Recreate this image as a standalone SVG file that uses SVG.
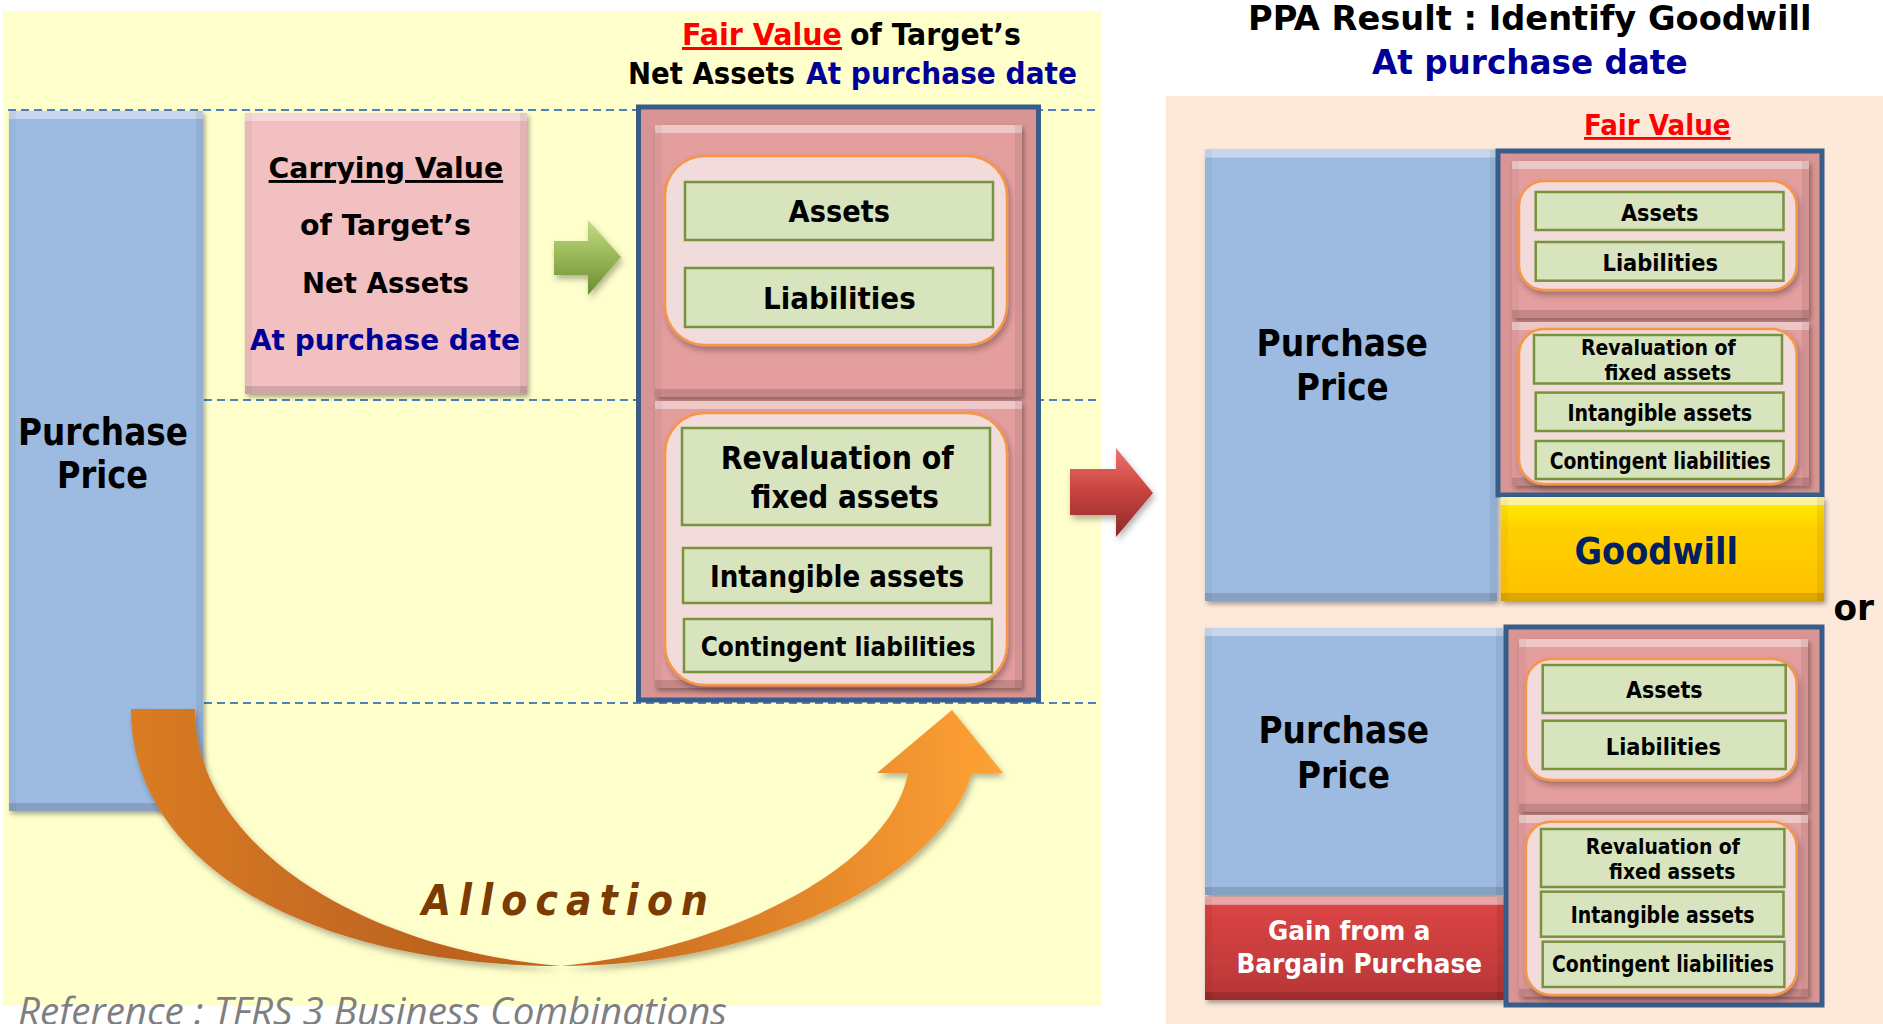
<svg xmlns="http://www.w3.org/2000/svg" width="1883" height="1024" viewBox="0 0 1883 1024">
<style>
.t{font-family:"DejaVu Sans Condensed","DejaVu Sans",sans-serif;font-weight:bold;fill:#000}
.blue{fill:#000099}
.red{fill:#FF0000;text-decoration:underline}
.ul{text-decoration:underline}
.dash{stroke:#4F81BD;stroke-width:2;stroke-dasharray:8 5;fill:none}
.grn{fill:#D7E4BD;stroke:#77933C;stroke-width:2.5}
.rnd{fill:#F2DCDB;stroke:#F79646;stroke-width:2.5}
.pink{fill:#E49E9E}
.outl{fill:#D99594;stroke:#385D8A;stroke-width:5}
.pp{fill:#9DBBE1}
</style>
<defs>
<filter id="bev" x="-5%" y="-5%" width="112%" height="112%">
  <feOffset in="SourceAlpha" dx="0" dy="8" result="d"/>
  <feComposite in="SourceAlpha" in2="d" operator="out" result="top"/>
  <feFlood flood-color="#ffffff" flood-opacity="0.35"/>
  <feComposite in2="top" operator="in" result="topHi"/>
  <feOffset in="SourceAlpha" dx="0" dy="-8" result="u"/>
  <feComposite in="SourceAlpha" in2="u" operator="out" result="bot"/>
  <feFlood flood-color="#000000" flood-opacity="0.28"/>
  <feComposite in2="bot" operator="in" result="botSh"/>
  <feOffset in="SourceAlpha" dx="-7" dy="0" result="l"/>
  <feComposite in="SourceAlpha" in2="l" operator="out" result="rgt"/>
  <feFlood flood-color="#000000" flood-opacity="0.15"/>
  <feComposite in2="rgt" operator="in" result="rSh"/>
  <feOffset in="SourceAlpha" dx="7" dy="0" result="r"/>
  <feComposite in="SourceAlpha" in2="r" operator="out" result="lft"/>
  <feFlood flood-color="#000000" flood-opacity="0.08"/>
  <feComposite in2="lft" operator="in" result="lSh"/>
  <feGaussianBlur in="SourceAlpha" stdDeviation="2.5"/>
  <feOffset dx="2" dy="3" result="ds"/>
  <feFlood flood-color="#000000" flood-opacity="0.35"/>
  <feComposite in2="ds" operator="in" result="dsC"/>
  <feMerge><feMergeNode in="dsC"/><feMergeNode in="SourceGraphic"/><feMergeNode in="topHi"/><feMergeNode in="botSh"/><feMergeNode in="rSh"/><feMergeNode in="lSh"/></feMerge>
</filter>
<filter id="sh" x="-10%" y="-10%" width="125%" height="125%">
  <feGaussianBlur in="SourceAlpha" stdDeviation="3"/>
  <feOffset dx="2" dy="4" result="o"/>
  <feFlood flood-color="#000000" flood-opacity="0.3"/>
  <feComposite in2="o" operator="in" result="s"/>
  <feMerge><feMergeNode in="s"/><feMergeNode in="SourceGraphic"/></feMerge>
</filter>
<linearGradient id="gArrow" x1="0" y1="0" x2="0" y2="1">
  <stop offset="0" stop-color="#C4DC8A"/><stop offset="0.45" stop-color="#9BBB59"/><stop offset="1" stop-color="#6C8A30"/>
</linearGradient>
<linearGradient id="rArrow" x1="0" y1="0" x2="0" y2="1">
  <stop offset="0" stop-color="#EC7470"/><stop offset="0.45" stop-color="#CB4541"/><stop offset="1" stop-color="#8E2A28"/>
</linearGradient>
<linearGradient id="oArrow" gradientUnits="userSpaceOnUse" x1="131" y1="0" x2="1003" y2="0">
  <stop offset="0" stop-color="#DB7C24"/><stop offset="0.35" stop-color="#BB631F"/><stop offset="0.5" stop-color="#C2661F"/><stop offset="1" stop-color="#FFA234"/>
</linearGradient>
<linearGradient id="gold" x1="0" y1="0" x2="0" y2="1">
  <stop offset="0" stop-color="#FFF200"/><stop offset="0.3" stop-color="#FFD000"/><stop offset="1" stop-color="#FFC000"/>
</linearGradient>
<linearGradient id="gainG" x1="0" y1="0" x2="0" y2="1">
  <stop offset="0" stop-color="#DE4646"/><stop offset="1" stop-color="#B73636"/>
</linearGradient>
</defs>

<!-- backgrounds -->
<rect x="3" y="11" width="1098" height="995" fill="#FFFFCC"/>
<rect x="1166" y="96" width="717" height="928" fill="#FDE9D9"/>

<g id="guides">
  <line class="dash" x1="8" y1="110" x2="1100" y2="110"/>
  <line class="dash" x1="204" y1="400" x2="1100" y2="400"/>
  <line class="dash" x1="204" y1="703" x2="1100" y2="703"/>
</g>

<g id="purchase-price-left">
  <rect class="pp" x="9" y="111" width="194" height="700" filter="url(#bev)"/>
  <text class="t" x="18" y="445" font-size="37" textLength="170" lengthAdjust="spacingAndGlyphs">Purchase</text>
  <text class="t" x="57" y="488" font-size="37" textLength="91" lengthAdjust="spacingAndGlyphs">Price</text>
</g>

<g id="carrying-value">
  <rect x="245" y="113" width="282" height="281" fill="#F2C0C0" filter="url(#bev)"/>
  <text class="t ul" x="268.6" y="178" font-size="29" textLength="234.5" lengthAdjust="spacingAndGlyphs">Carrying Value</text>
  <text class="t" x="300" y="235" font-size="29" textLength="171" lengthAdjust="spacingAndGlyphs">of Target’s</text>
  <text class="t" x="302" y="293" font-size="29" textLength="167" lengthAdjust="spacingAndGlyphs">Net Assets</text>
  <text class="t blue" x="250" y="350" font-size="29" textLength="270" lengthAdjust="spacingAndGlyphs">At purchase date</text>
</g>

<g id="fair-value-title">
  <text class="t red" x="682" y="45" font-size="30" textLength="160" lengthAdjust="spacingAndGlyphs">Fair Value</text>
  <text class="t" x="850" y="45" font-size="30" textLength="171" lengthAdjust="spacingAndGlyphs">of Target’s</text>
  <text class="t" x="628" y="84" font-size="30" textLength="167" lengthAdjust="spacingAndGlyphs">Net Assets</text>
  <text class="t blue" x="806" y="84" font-size="30" textLength="271" lengthAdjust="spacingAndGlyphs">At purchase date</text>
</g>

<g id="fair-value-net-assets">
  <rect class="outl" x="638.5" y="107" width="400" height="593"/>
  <rect class="pink" x="655" y="125" width="367" height="272" filter="url(#bev)"/>
  <rect class="rnd" x="665" y="156" width="342" height="189" rx="40" filter="url(#sh)"/>
  <rect class="grn" x="685" y="182" width="308" height="58"/>
  <text class="t" x="788.6" y="222" font-size="30" textLength="101.4" lengthAdjust="spacingAndGlyphs">Assets</text>
  <rect class="grn" x="685" y="268" width="308" height="59"/>
  <text class="t" x="763" y="309" font-size="30" textLength="152.7" lengthAdjust="spacingAndGlyphs">Liabilities</text>
  <rect class="pink" x="655" y="401" width="367" height="287" filter="url(#bev)"/>
  <rect class="rnd" x="665" y="413" width="342" height="272" rx="40" filter="url(#sh)"/>
  <rect class="grn" x="682" y="428" width="308" height="97"/>
  <text class="t" x="720.7" y="469" font-size="32" textLength="233" lengthAdjust="spacingAndGlyphs">Revaluation of</text>
  <text class="t" x="750.7" y="508" font-size="32" textLength="188.3" lengthAdjust="spacingAndGlyphs">fixed assets</text>
  <rect class="grn" x="683" y="548" width="308" height="55"/>
  <text class="t" x="710" y="587" font-size="30" textLength="254" lengthAdjust="spacingAndGlyphs">Intangible assets</text>
  <rect class="grn" x="684" y="619" width="308" height="53"/>
  <text class="t" x="700.7" y="656" font-size="27" textLength="275" lengthAdjust="spacingAndGlyphs">Contingent liabilities</text>
</g>

<g id="connectors">
  <polygon points="554,241 588,241 588,220 621,257 588,295 588,275 554,275" fill="url(#gArrow)" filter="url(#sh)"/>
  <polygon points="1070,469 1116,469 1116,448 1153,493 1116,537 1116,515 1070,515" fill="url(#rArrow)" filter="url(#sh)"/>
  <path d="M131,709 C131,870 320,966 561,966 C760,966 940,880 972,773 L1003,773 L952,710 L877,773 L908,773 C890,870 720,950 561,966 C370,950 195,850 195,709 Z" fill="url(#oArrow)" filter="url(#sh)"/>
</g>

<g id="allocation-label">
  <text x="421.7" y="915" font-family="'DejaVu Sans Condensed','DejaVu Sans',sans-serif" font-weight="bold" font-style="italic" font-size="42" fill="#7B3B03" textLength="286.3" lengthAdjust="spacing">Allocation</text>
</g>

<g id="reference-note">
  <text x="18" y="1025" font-family="'Open Sans','DejaVu Sans',sans-serif" font-style="italic" font-size="38" fill="#7F7F7F" textLength="709" lengthAdjust="spacingAndGlyphs">Reference : TFRS 3 Business Combinations</text>
</g>

<g id="ppa-title">
  <text class="t" x="1248" y="30" font-size="34" textLength="563.5" lengthAdjust="spacingAndGlyphs">PPA Result : Identify Goodwill</text>
  <text class="t blue" x="1372" y="74" font-size="34" textLength="315.6" lengthAdjust="spacingAndGlyphs">At purchase date</text>
  <text class="t red" x="1584" y="135" font-size="28" textLength="146.6" lengthAdjust="spacingAndGlyphs">Fair Value</text>
</g>

<g id="purchase-price-goodwill">
  <rect class="pp" x="1205" y="149.5" width="292" height="451.5" filter="url(#bev)"/>
  <text class="t" x="1256.6" y="356" font-size="38" textLength="171.4" lengthAdjust="spacingAndGlyphs">Purchase</text>
  <text class="t" x="1296" y="400" font-size="38" textLength="92.6" lengthAdjust="spacingAndGlyphs">Price</text>
</g>

<g id="fair-value-goodwill-case">
  <rect class="outl" x="1498" y="151" width="324" height="344"/>
  <rect class="pink" x="1512" y="161" width="297" height="157" filter="url(#bev)"/>
  <rect class="rnd" x="1519" y="181" width="277.6" height="109" rx="25" filter="url(#sh)"/>
  <rect class="grn" x="1535.7" y="192" width="247.8" height="38"/>
  <text class="t" x="1621" y="220.6" font-size="23" textLength="77.4" lengthAdjust="spacingAndGlyphs">Assets</text>
  <rect class="grn" x="1535.7" y="242" width="247.8" height="38.7"/>
  <text class="t" x="1602.5" y="271" font-size="23" textLength="115.5" lengthAdjust="spacingAndGlyphs">Liabilities</text>
  <rect class="pink" x="1512" y="322" width="297" height="163.6" filter="url(#bev)"/>
  <rect class="rnd" x="1519" y="329" width="277.6" height="155" rx="25" filter="url(#sh)"/>
  <rect class="grn" x="1534" y="335" width="248" height="48.5"/>
  <text class="t" x="1581" y="354.7" font-size="21" textLength="154.8" lengthAdjust="spacingAndGlyphs">Revaluation of</text>
  <text class="t" x="1604.4" y="380" font-size="21" textLength="126.7" lengthAdjust="spacingAndGlyphs">fixed assets</text>
  <rect class="grn" x="1535.7" y="392.6" width="247.8" height="38.4"/>
  <text class="t" x="1567.5" y="421" font-size="23" textLength="184.6" lengthAdjust="spacingAndGlyphs">Intangible assets</text>
  <rect class="grn" x="1535.7" y="441" width="247.8" height="38"/>
  <text class="t" x="1549.7" y="468.6" font-size="23" textLength="221" lengthAdjust="spacingAndGlyphs">Contingent liabilities</text>
</g>

<g id="goodwill">
  <rect x="1500.6" y="497" width="323.4" height="104" fill="url(#gold)" filter="url(#bev)"/>
  <text class="t" x="1574.5" y="563.5" font-size="38" style="fill:#002060" textLength="163.5" lengthAdjust="spacingAndGlyphs">Goodwill</text>
</g>

<g id="or-label">
  <text class="t" x="1833.5" y="620" font-size="35" textLength="40.5" lengthAdjust="spacingAndGlyphs">or</text>
</g>

<g id="purchase-price-bargain">
  <rect class="pp" x="1205" y="628" width="298" height="267" filter="url(#bev)"/>
  <text class="t" x="1258.5" y="742.7" font-size="38" textLength="170.5" lengthAdjust="spacingAndGlyphs">Purchase</text>
  <text class="t" x="1297" y="787.7" font-size="38" textLength="93" lengthAdjust="spacingAndGlyphs">Price</text>
</g>

<g id="bargain-gain">
  <rect x="1205" y="896.7" width="299" height="103.3" fill="url(#gainG)" filter="url(#bev)"/>
  <text class="t" x="1268" y="940" font-size="27" style="fill:#ffffff" textLength="162.5" lengthAdjust="spacingAndGlyphs">Gain from a</text>
  <text class="t" x="1236.5" y="973" font-size="27" style="fill:#ffffff" textLength="245.5" lengthAdjust="spacingAndGlyphs">Bargain Purchase</text>
</g>

<g id="fair-value-bargain-case">
  <rect class="outl" x="1506" y="627" width="316" height="378"/>
  <rect class="pink" x="1519" y="639" width="289" height="172.7" filter="url(#bev)"/>
  <rect class="rnd" x="1526" y="659" width="270.6" height="121" rx="25" filter="url(#sh)"/>
  <rect class="grn" x="1542.7" y="665" width="243" height="48"/>
  <text class="t" x="1626" y="698" font-size="23" textLength="76.6" lengthAdjust="spacingAndGlyphs">Assets</text>
  <rect class="grn" x="1542.7" y="720.7" width="243" height="48.3"/>
  <text class="t" x="1605.8" y="755" font-size="23" textLength="115.2" lengthAdjust="spacingAndGlyphs">Liabilities</text>
  <rect class="pink" x="1519" y="815" width="289" height="181.7" filter="url(#bev)"/>
  <rect class="rnd" x="1526" y="821.7" width="270.6" height="173.3" rx="25" filter="url(#sh)"/>
  <rect class="grn" x="1541" y="829" width="243.4" height="58"/>
  <text class="t" x="1585.7" y="854" font-size="21.5" textLength="154.3" lengthAdjust="spacingAndGlyphs">Revaluation of</text>
  <text class="t" x="1609" y="879.3" font-size="21.5" textLength="126.3" lengthAdjust="spacingAndGlyphs">fixed assets</text>
  <rect class="grn" x="1541" y="891.7" width="242.5" height="45"/>
  <text class="t" x="1570.8" y="922.7" font-size="23" textLength="183.7" lengthAdjust="spacingAndGlyphs">Intangible assets</text>
  <rect class="grn" x="1542.7" y="941.7" width="241.7" height="45.3"/>
  <text class="t" x="1552" y="972" font-size="23" textLength="222" lengthAdjust="spacingAndGlyphs">Contingent liabilities</text>
</g>
</svg>
